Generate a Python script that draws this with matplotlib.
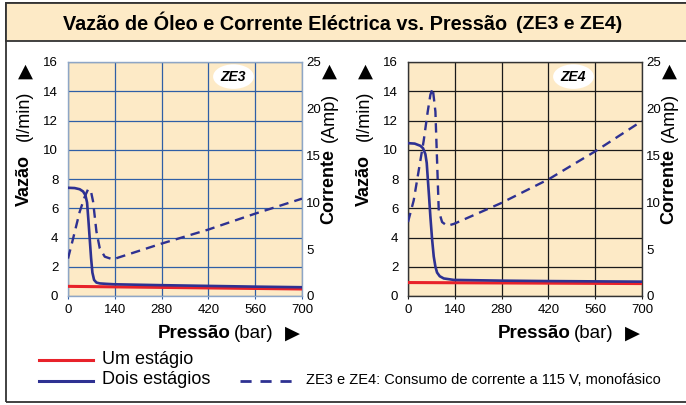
import matplotlib
matplotlib.use("Agg")
import matplotlib.pyplot as plt
from matplotlib.patches import Rectangle
from matplotlib.lines import Line2D

# -----------------------------
# Data
# -----------------------------
pressure_ticks = [0, 140, 280, 420, 560, 700]
flow_ticks = [0, 2, 4, 6, 8, 10, 12, 14, 16]
amp_ticks = [0, 5, 10, 15, 20, 25]

# ZE3
ze3_one_p = [0, 700]
ze3_one_q = [0.66, 0.48]
ze3_two_p = [0, 20, 35, 45, 52, 57, 61, 65, 69, 73, 78, 85, 95, 115, 140, 280, 420, 560, 700]
ze3_two_q = [7.4, 7.38, 7.3, 7.15, 6.9, 6.4, 5.2, 3.9, 2.6, 1.6, 1.1, 0.92, 0.86, 0.83, 0.8, 0.74, 0.69, 0.64, 0.6]
ze3_amp_p = [0, 15, 35, 50, 60, 68, 75, 85, 95, 110, 135, 150, 280, 420, 560, 700]
ze3_amp = [4.0, 6.1, 9.0, 10.6, 11.4, 11.3, 10.1, 6.9, 5.1, 4.2, 3.9, 4.1, 5.6, 7.1, 8.8, 10.4]

# ZE4
ze4_one_p = [0, 700]
ze4_one_q = [0.92, 0.85]
ze4_two_p = [0, 20, 37, 45, 52, 56, 59, 63, 67, 72, 77, 82, 87, 95, 107, 137, 280, 420, 560, 700]
ze4_two_q = [10.45, 10.42, 10.27, 10.1, 9.7, 9.1, 8.1, 6.8, 5.4, 3.9, 2.7, 2.0, 1.6, 1.35, 1.2, 1.1, 1.05, 1.02, 1.0, 0.98]
ze4_amp_p = [0, 17, 32, 47, 59, 67, 74, 82, 87, 92, 102, 117, 137, 277, 422, 562, 700]
ze4_amp = [7.9, 10.2, 13.4, 16.6, 19.7, 21.5, 22.2, 19.7, 14.4, 9.1, 7.9, 7.5, 7.7, 9.9, 12.5, 15.5, 18.7]

RED = "#e8222a"
BLUE = "#2e3192"
BEIGE = "#fdeac6"

W, H = 686, 405
plt.rcParams["font.family"] = ["Liberation Sans", "DejaVu Sans"]

fig = plt.figure(figsize=(W / 100, H / 100), dpi=100)


def fx(x):
    return x / W


def fy(y):
    return 1 - y / H


# frame and title band
fig.add_artist(Rectangle((fx(5.5), fy(401.5)), fx(690) - fx(5.5), fy(3) - fy(401.5),
                         transform=fig.transFigure, fill=False, lw=1.3, ec="#333333"))
fig.add_artist(Rectangle((fx(5.5), fy(41)), fx(690) - fx(5.5), fy(3) - fy(41),
                         transform=fig.transFigure, fc=BEIGE, lw=1.3, ec="#333333"))
fig.text(fx(507), fy(30), "Vazão de Óleo e Corrente Eléctrica vs. Pressão", ha="right", va="baseline",
         fontsize=14.3, fontweight="bold")
fig.text(fx(516), fy(29), "(ZE3 e ZE4)", ha="left", va="baseline", fontsize=14, fontweight="bold")


def panel(x0, name, one_p, one_q, two_p, two_q, amp_p, amp, grid_color, spine_color):
    ax = fig.add_axes([fx(x0), fy(296), fx(234), 234 / H])
    ax.set_facecolor(BEIGE)
    ax.set_xlim(0, 700)
    ax.set_ylim(0, 16)
    ax.set_xticks(pressure_ticks)
    ax.set_yticks(flow_ticks)
    ax.grid(True, color=grid_color, lw=0.9)
    ax.set_axisbelow(True)
    for s in ax.spines.values():
        s.set_color(spine_color)
        s.set_linewidth(1.0)
    ax.tick_params(axis="x", length=2.5, color=grid_color, pad=3, labelsize=9.5)
    ax.tick_params(axis="y", length=0, pad=7, labelsize=9.5)

    ax.plot(one_p, one_q, color=RED, lw=2.2, zorder=3)
    ax.plot(two_p, two_q, color=BLUE, lw=1.9, zorder=4)

    ax2 = ax.twinx()
    ax2.set_ylim(0, 25)
    ax2.set_yticks(amp_ticks)
    ax2.tick_params(axis="y", length=0, pad=3, labelsize=9.5)
    for s in ax2.spines.values():
        s.set_visible(False)
    ax2.plot(amp_p, amp, color=BLUE, lw=1.7, dashes=(4, 2.6), zorder=4)

    ax.text(495, 15.0, name, ha="center", va="center", fontsize=10, fontweight="bold",
            fontstyle="italic", zorder=6,
            bbox=dict(boxstyle="ellipse,pad=0.12", fc="white", ec="none"))

    # axis titles
    fig.text(fx(x0 - 44), fy(180), "Vazão", rotation=90, ha="center", va="center",
             fontsize=13, fontweight="bold")
    fig.text(fx(x0 - 44), fy(116), "(l/min)", rotation=90, ha="center", va="center", fontsize=13)
    fig.text(fx(x0 - 43), fy(71), "▲", ha="center", va="center", fontsize=14, family=["DejaVu Sans"])
    fig.text(fx(x0 + 261), fy(186), "Corrente", rotation=90, ha="center", va="center",
             fontsize=13, fontweight="bold")
    fig.text(fx(x0 + 261), fy(117), "(Amp)", rotation=90, ha="center", va="center", fontsize=13)
    fig.text(fx(x0 + 261), fy(71), "▲", ha="center", va="center", fontsize=14, family=["DejaVu Sans"])
    fig.text(fx(x0 + 163), fy(333), "Pressão", ha="right", va="center", fontsize=13.5, fontweight="bold")
    fig.text(fx(x0 + 166), fy(333), "(bar)", ha="left", va="center", fontsize=13.5)
    fig.text(fx(x0 + 224), fy(333), "▶", ha="center", va="center", fontsize=14, family=["DejaVu Sans"])
    return ax


panel(68, "ZE3", ze3_one_p, ze3_one_q, ze3_two_p, ze3_two_q, ze3_amp_p, ze3_amp, "#2f5fa6", "#8ea6c6")
panel(408, "ZE4", ze4_one_p, ze4_one_q, ze4_two_p, ze4_two_q, ze4_amp_p, ze4_amp, "#1a1a1a", "#333333")

# legend
fig.add_artist(Line2D([fx(39), fx(93)], [fy(360), fy(360)], color=RED, lw=2.2))
fig.add_artist(Line2D([fx(39), fx(93)], [fy(381), fy(381)], color=BLUE, lw=2.2))
fig.add_artist(Line2D([fx(240), fx(295)], [fy(381), fy(381)], color=BLUE, lw=2.0, dashes=(4, 3.2)))
fig.text(fx(102), fy(359), "Um estágio", ha="left", va="center", fontsize=13)
fig.text(fx(102), fy(380), "Dois estágios", ha="left", va="center", fontsize=13)
fig.text(fx(306), fy(380), "ZE3 e ZE4: Consumo de corrente a 115 V, monofásico", ha="left", va="center",
         fontsize=10.5)

fig.savefig("out.png", dpi=100)
